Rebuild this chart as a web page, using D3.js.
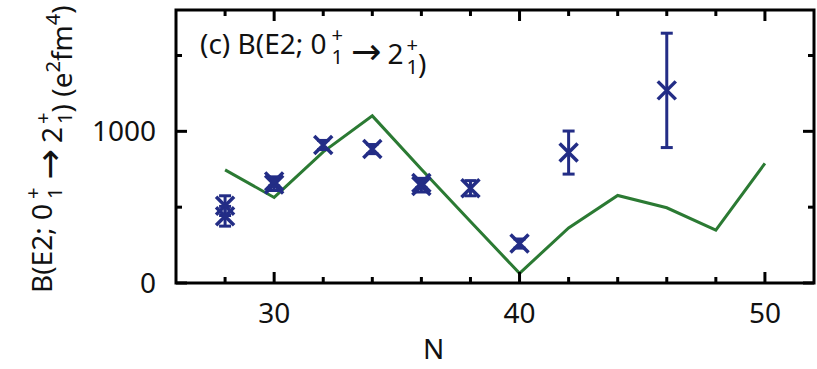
<!DOCTYPE html>
<html>
<head>
<meta charset="utf-8">
<script src="https://cdn.jsdelivr.net/npm/d3@7"></script>
<style>
  html, body { margin: 0; padding: 0; background: #fff; }
  svg { display: block; }
  text { font-family: "Noto Sans", "Open Sans", sans-serif; fill: #111; }
  tspan.arrow { font-family: "DejaVu Sans", sans-serif; }
</style>
</head>
<body>
<svg id="chart" width="817" height="369"></svg>
<script>
// Neutron number N of the measured points (some N carry more than one measurement)
const expN = [28, 28, 30, 30, 32, 34, 36, 36, 38, 40, 42, 46];
// Measured B(E2; 0+ -> 2+) in e^2 fm^4 and their uncertainties
const expValue = [510, 440, 650, 670, 910, 883, 640, 660, 625, 260, 860, 1270];
const expError = [65, 65, 40, 30, 30, 30, 40, 30, 50, 30, 142, 377];

// Calculated B(E2) along the chain
const theoryN = [28, 30, 32, 34, 36, 38, 40, 42, 44, 46, 48, 50];
const theoryValue = [746, 564, 865, 1102, 750, 405, 64, 363, 577, 496, 348, 789];

// Axis ticks
const xMajorTicks = [30, 40, 50];
const xMinorTicks = [28, 32, 34, 36, 38, 42, 44, 46, 48];
const yMajorTicks = [0, 1000];
const yMinorTicks = [500, 1500];

const navy = "#232d86";
const green = "#2b7a33";

const svg = d3.select("#chart");
const plotL = 176, plotR = 814, plotT = 10, plotB = 283;

const x = d3.scaleLinear().domain([26, 52]).range([plotL, plotR]);
const y = d3.scaleLinear().domain([0, 1800]).range([plotB, plotT]);

// Theory curve
const line = d3.line().x(d => x(d[0])).y(d => y(d[1]));
svg.append("path")
  .datum(theoryN.map((n, i) => [n, theoryValue[i]]))
  .attr("d", line)
  .attr("fill", "none")
  .attr("stroke", green)
  .attr("stroke-width", 3)
  .attr("stroke-linejoin", "miter");

// Measured points: error bars with caps and x-shaped markers
const pts = expN.map((n, i) => ({ n, v: expValue[i], e: expError[i] }));
const g = svg.append("g").attr("stroke", navy).attr("fill", "none");
const capW = 6, mk = 9;
pts.forEach(p => {
  const cx = x(p.n), cy = y(p.v), y1 = y(p.v + p.e), y2 = y(p.v - p.e);
  g.append("line").attr("x1", cx).attr("x2", cx).attr("y1", y1).attr("y2", y2).attr("stroke-width", 3);
  g.append("line").attr("x1", cx - capW).attr("x2", cx + capW).attr("y1", y1).attr("y2", y1).attr("stroke-width", 3);
  g.append("line").attr("x1", cx - capW).attr("x2", cx + capW).attr("y1", y2).attr("y2", y2).attr("stroke-width", 3);
  g.append("path")
    .attr("d", `M${cx - mk},${cy - mk}L${cx + mk},${cy + mk}M${cx - mk},${cy + mk}L${cx + mk},${cy - mk}`)
    .attr("stroke-width", 3.5);
});

// Frame
svg.append("rect")
  .attr("x", plotL).attr("y", plotT)
  .attr("width", plotR - plotL).attr("height", plotB - plotT)
  .attr("fill", "none").attr("stroke", "#000").attr("stroke-width", 3);

// Inward ticks on all four sides
const tk = svg.append("g").attr("stroke", "#000").attr("stroke-width", 3);
const majorLen = 11, minorLen = 6;
xMajorTicks.concat(xMinorTicks).forEach(t => {
  const len = xMajorTicks.includes(t) ? majorLen : minorLen;
  tk.append("line").attr("x1", x(t)).attr("x2", x(t)).attr("y1", plotB).attr("y2", plotB - len);
  tk.append("line").attr("x1", x(t)).attr("x2", x(t)).attr("y1", plotT).attr("y2", plotT + len);
});
yMajorTicks.concat(yMinorTicks).forEach(t => {
  const len = yMajorTicks.includes(t) ? majorLen : minorLen;
  tk.append("line").attr("x1", plotL).attr("x2", plotL + len).attr("y1", y(t)).attr("y2", y(t));
  tk.append("line").attr("x1", plotR).attr("x2", plotR - len).attr("y1", y(t)).attr("y2", y(t));
});

// Tick labels
const fs = 28;
svg.append("g").selectAll("text").data(xMajorTicks).join("text")
  .attr("x", d => x(d)).attr("y", 323)
  .attr("text-anchor", "middle").attr("font-size", fs)
  .text(d => d);
svg.append("g").selectAll("text").data(yMajorTicks).join("text")
  .attr("x", 156).attr("y", d => y(d) + 10)
  .attr("text-anchor", "end").attr("font-size", fs)
  .text(d => d);

// Axis title N
svg.append("text").attr("x", x(36.5)).attr("y", 359)
  .attr("text-anchor", "middle").attr("font-size", fs).text("N");

// Helper: writes B(E2; 0+1 -> 2+1) with stacked sub/superscripts
function writeBE2(t, size) {
  const small = size * 0.72;
  const adv = small * 0.572;
  t.append("tspan").text("B(E2; 0");
  const state = (gap) => {
    t.append("tspan").attr("font-size", small).attr("dx", gap).attr("dy", -size * 0.42).text("+");
    t.append("tspan").attr("font-size", small).attr("dx", -adv).attr("dy", size * 0.78).text("1");
    t.append("tspan").attr("dy", -size * 0.36).text("");
  };
  state(5);
  t.append("tspan").attr("class", "arrow").attr("font-size", size * 1.3).attr("dx", 8).text("\u2192");
  t.append("tspan").attr("dx", 6).text("2");
  state(3);
  t.append("tspan").text(")");
}

// Panel title
const title = svg.append("text").attr("x", 200).attr("y", 54).attr("font-size", fs);
title.append("tspan").text("(c) ");
writeBE2(title, fs);

// Y axis title
const ylab = svg.append("text").attr("font-size", fs)
  .attr("transform", "translate(52,293) rotate(-90)");
writeBE2(ylab, fs);
ylab.append("tspan").text(" (e");
ylab.append("tspan").attr("font-size", fs * 0.72).attr("dy", -fs * 0.42).text("2");
ylab.append("tspan").attr("dy", fs * 0.42).text("fm");
ylab.append("tspan").attr("font-size", fs * 0.72).attr("dy", -fs * 0.42).text("4");
ylab.append("tspan").attr("dy", fs * 0.42).text(")");
</script>
</body>
</html>
